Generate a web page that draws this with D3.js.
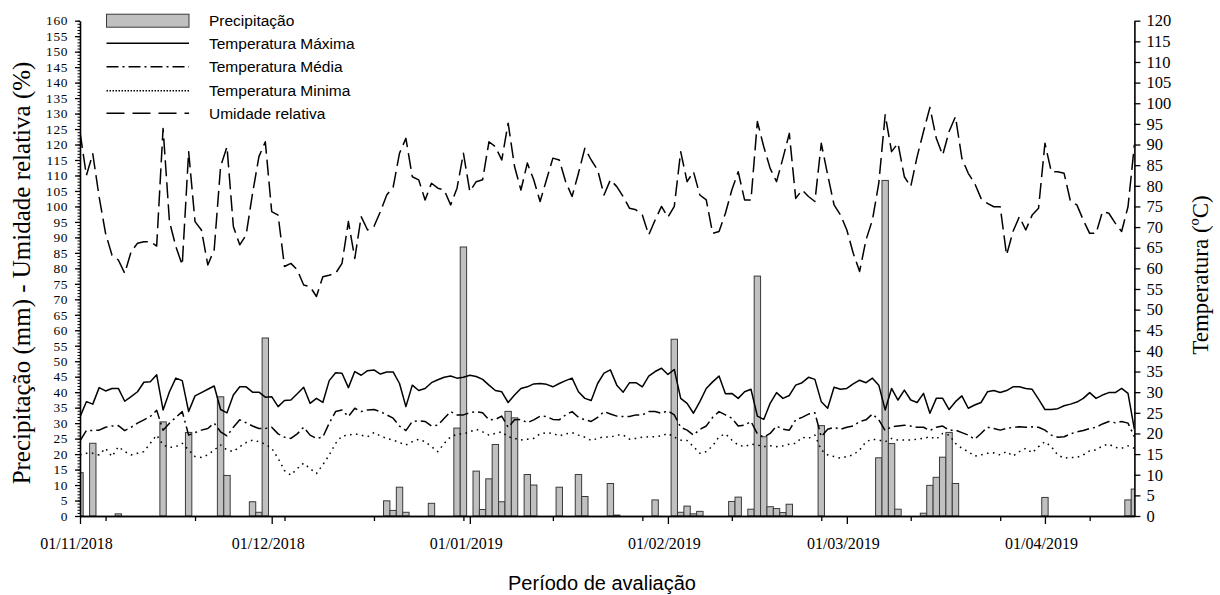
<!DOCTYPE html>
<html>
<head>
<meta charset="utf-8">
<script src="https://cdn.jsdelivr.net/npm/d3@7"></script>
<style>
  body { margin: 0; background: #fff; }
  svg { display: block; }
</style>
</head>
<body>
<svg id="chart" width="1220" height="595"></svg>
<script>
// Daily series, 01/11/2018 .. 15/04/2019 (one value per day)
const startDay = "2018-11-01";

const precipitacao = [
  14, 0, 23.5, 0, 0, 0, 0.7, 0, 0, 0, 0, 0, 0, 30.4, 0, 0, 0, 27, 0, 0,
  0, 0, 38.5, 13.1, 0, 0, 0, 4.6, 1.2, 57.5, 0, 0, 0, 0, 0, 0, 0, 0, 0, 0,
  0, 0, 0, 0, 0, 0, 0, 0, 4.9, 1.8, 9.3, 1.2, 0, 0, 0, 4.1, 0, 0, 0, 28.4,
  86.9, 0, 14.5, 2.1, 12, 23.1, 4.6, 33.8, 31.7, 0, 13.4, 10, 0, 0, 0, 9.3, 0, 0, 13.4, 6.3,
  0, 0, 0, 10.5, 0.3, 0, 0, 0, 0, 0, 5.2, 0, 0, 57.1, 1.2, 3.2, 0.7, 1.5, 0, 0,
  0, 0, 4.7, 6.1, 0, 2.2, 77.5, 25.6, 3, 2.4, 1.1, 3.8, 0, 0, 0, 0, 29.2, 0, 0, 0,
  0, 0, 0, 0, 0, 18.8, 108.4, 23.4, 2.2, 0, 0, 0, 0.9, 9.9, 12.5, 19, 27, 10.5, 0, 0,
  0, 0, 0, 0, 0, 0, 0, 0, 0, 0, 0, 6, 0, 0, 0, 0, 0, 0, 0, 0,
  0, 0, 0, 0, 5.2, 8.7
];

const temperaturaMaxima = [
  24, 27.7, 27.1, 31.1, 30.3, 30.9, 30.9, 27.8, 28.9, 30.1, 32.4, 32.5, 34.2, 25.7, 30.1, 33.4, 32.8, 25.3, 29.1, 29.9,
  30.7, 31.5, 25.8, 25.0, 29.3, 31.3, 31.3, 30.0, 30.0, 28.8, 28.9, 26.5, 28.0, 28.1, 29.6, 31.2, 27.3, 28.5, 27.5, 32.8,
  34.7, 34.6, 31.1, 35.0, 34.1, 35.2, 35.4, 34.4, 34.9, 34.9, 32.1, 26.5, 31.7, 30.4, 30.9, 32.3, 33.0, 33.6, 33.9, 33.4,
  33.6, 34.1, 33.8, 33.1, 31.7, 30.4, 30.1, 27.5, 29.3, 30.9, 31.3, 32.0, 32.1, 31.9, 31.3, 32.1, 32.8, 33.4, 30.1, 28.5,
  28.0, 32.1, 34.6, 35.4, 31.7, 30.0, 32.3, 32.3, 31.3, 33.9, 35.0, 35.8, 34.3, 35.5, 28.5, 27.3, 24.9, 27.7, 30.9, 32.5,
  33.9, 29.6, 29.7, 28.5, 30.1, 30.7, 24.2, 23.4, 27.3, 29.9, 28.5, 29.2, 31.7, 32.3, 33.6, 33.1, 27.7, 26.1, 31.2, 30.7,
  30.9, 32.0, 32.9, 32.3, 33.4, 31.7, 25.7, 30.9, 28.1, 30.5, 28.1, 27.5, 29.7, 24.9, 28.5, 28.5, 25.8, 27.7, 29.1, 26.1,
  26.9, 27.5, 30.1, 30.4, 29.9, 30.4, 31.3, 31.3, 30.9, 30.7, 28.3, 25.8, 25.8, 26.0, 26.7, 27.1, 27.6, 28.5, 29.9, 28.5,
  29.3, 29.9, 29.9, 30.9, 29.7, 21.0
];

const temperaturaMedia = [
  18.2, 20.7, 20.7, 20.8, 21.5, 21.8, 21.9, 20.7, 21.5, 22.5, 23.3, 24.1, 25.6, 20.8, 22.5, 23.9, 25.3, 19.6, 20.2, 20.8,
  21.2, 22.5, 20.4, 19.4, 21.5, 23.3, 22.6, 21.8, 21.2, 21.2, 21.5, 19.9, 19.1, 18.8, 19.9, 21.5, 19.6, 18.8, 19.1, 22.5,
  25.3, 25.7, 24.1, 26.1, 25.3, 25.7, 25.8, 25.3, 24.5, 23.7, 21.8, 20.7, 22.9, 23.1, 22.9, 21.8, 22.0, 23.7, 25.3, 24.5,
  24.5, 25.0, 25.3, 25.0, 23.3, 23.4, 24.2, 21.5, 23.3, 23.4, 22.6, 23.3, 24.2, 24.1, 23.4, 23.3, 24.5, 25.3, 23.9, 23.3,
  22.9, 23.9, 25.3, 24.7, 24.2, 24.1, 24.1, 24.5, 24.5, 25.3, 25.3, 24.9, 25.5, 24.5, 21.5, 20.8, 19.6, 21.0, 21.8, 23.9,
  25.3, 24.5, 23.7, 21.8, 22.0, 22.9, 19.9, 19.1, 20.0, 21.8, 21.0, 20.8, 23.3, 23.9, 24.7, 25.0, 19.2, 21.0, 21.5, 21.0,
  21.5, 21.8, 22.9, 23.3, 24.7, 23.3, 20.7, 21.6, 21.8, 22.0, 21.8, 21.5, 21.5, 20.7, 21.5, 21.8, 20.8, 20.8, 20.2, 19.6,
  18.6, 20.0, 21.5, 21.2, 20.8, 21.2, 21.5, 21.6, 21.5, 21.6, 21.5, 20.8, 19.6, 19.1, 19.2, 19.9, 20.4, 20.7, 21.2, 21.5,
  22.3, 22.9, 22.6, 22.9, 22.5, 19.2
];

const temperaturaMinima = [
  14.8, 15.2, 15.2, 14.8, 16.4, 14.4, 16.8, 15.6, 14.8, 15.2, 15.6, 17.6, 19.6, 17.2, 16.6, 16.8, 17.6, 16.0, 14.4, 14.2,
  14.8, 16.0, 17.2, 16.0, 15.6, 16.8, 17.8, 18.4, 18.0, 17.4, 16.4, 14.0, 11.0, 9.9, 11.5, 12.8, 11.5, 10.3, 12.4, 14.8,
  17.6, 19.4, 19.6, 19.9, 19.6, 19.2, 20.2, 19.4, 18.8, 18.4, 17.8, 17.2, 18.0, 18.6, 18.0, 16.8, 15.6, 17.6, 19.2, 19.8,
  19.9, 20.4, 21.0, 20.4, 19.6, 20.0, 20.4, 19.2, 18.8, 18.4, 18.6, 18.8, 19.9, 20.2, 20.0, 19.4, 19.9, 20.2, 19.6, 19.1,
  18.3, 18.8, 19.2, 19.1, 19.6, 19.6, 18.6, 18.8, 19.1, 19.2, 19.2, 19.4, 20.0, 19.1, 18.4, 18.3, 16.8, 15.2, 15.6, 17.0,
  19.2, 19.9, 18.4, 17.2, 16.8, 17.4, 17.2, 16.8, 17.0, 16.8, 17.0, 17.4, 17.6, 19.1, 18.8, 19.6, 16.0, 14.8, 14.4, 14.0,
  14.4, 14.8, 16.0, 18.0, 18.6, 18.4, 18.0, 18.8, 18.4, 18.4, 18.4, 18.6, 18.8, 19.2, 18.6, 20.0, 19.6, 17.6, 16.4, 15.6,
  14.5, 14.8, 15.2, 15.3, 14.8, 15.6, 14.5, 15.6, 16.4, 15.3, 16.8, 18.0, 16.8, 14.8, 14.0, 14.2, 14.2, 14.8, 15.8, 16.0,
  17.0, 17.4, 16.6, 16.4, 17.0, 16.4
];

const umidadeRelativa = [
  124, 110, 117, 103, 91.3, 84.3, 82.7, 78.4, 85.4, 88.1, 88.6, 88.6, 87.2, 125.2, 95.1, 87, 81.1, 117.7, 95.1, 92.4,
  81.1, 86, 112.9, 119.3, 93.5, 87.6, 90.8, 104.2, 116.1, 120.9, 98.3, 97.2, 80.6, 81.6, 79.5, 74.6, 74.1, 70.9, 77.3, 77.8,
  78.4, 81.6, 95.1, 83.2, 96.7, 92.4, 93.5, 98.3, 103.7, 106.2, 117.2, 122, 109.6, 108.6, 102.1, 107.5, 105.9, 105.3, 100.5, 105.9,
  117.2, 104.8, 108, 108.6, 120.9, 119.3, 115, 126.9, 112.9, 105.3, 114, 108.6, 101.6, 108.6, 115.6, 115, 108, 103.2, 110.7, 118.8,
  115, 111.8, 103.7, 108.6, 106.4, 103.2, 99.4, 98.9, 97.2, 90.8, 95.6, 100, 96.5, 100, 117.7, 108, 111.2, 103.7, 102.1, 91.3,
  91.9, 97.8, 105.3, 111.2, 102.1, 102.1, 127.4, 119.3, 112.3, 108, 115.6, 123.6, 102.6, 105.3, 103.2, 101.6, 120.4, 110.2, 100.5, 97.3,
  92.4, 84.9, 79, 89.2, 95.6, 107.5, 129.6, 117.7, 120.4, 109.6, 106.4, 116.1, 124.2, 132, 122, 116.6, 124.2, 129, 115.6, 110.7,
  107.5, 102.6, 101, 99.9, 99.9, 84.3, 91.9, 96.7, 92.4, 97.2, 99.4, 120.4, 111.2, 111.2, 110.7, 101.6, 100.5, 95.6, 91.3, 91.3,
  98.3, 97.8, 94.6, 91.9, 99.9, 119.9
];

// Labelled month ticks and the 14-day minor ticks (offsets in days from startDay)
const monthTickDays = ["2018-11-01", "2018-12-01", "2019-01-01", "2019-02-01", "2019-03-01", "2019-04-01"];
const monthTickLabels = ["01/11/2018", "01/12/2018", "01/01/2019", "01/02/2019", "01/03/2019", "01/04/2019"];
const minorTickOffsets = [4, 18, 32, 46, 60, 74, 88, 102, 116, 130, 144, 158];

const leftTicks = d3.range(0, 161, 5);
const rightTicks = d3.range(0, 121, 5);

const legendItems = ["Precipitação", "Temperatura Máxima", "Temperatura Média", "Temperatura Minima", "Umidade relativa"];

// ---------------------------------------------------------------------------
const parse = d3.utcParse("%Y-%m-%d");
const t0 = parse(startDay);
const dates = precipitacao.map((_, i) => d3.utcDay.offset(t0, i));
const lastDay = dates[dates.length - 1];

const plot = { left: 80, right: 1134.4, top: 20.7, bottom: 516 };

const x = d3.scaleUtc().domain([t0, lastDay]).range([plot.left, plot.right]);
const yLeft = d3.scaleLinear().domain([0, 160]).range([plot.bottom, plot.top]);
const yRight = d3.scaleLinear().domain([0, 120]).range([plot.bottom, plot.top]);

const serif = "'Liberation Serif', 'Times New Roman', serif";
const sans = "'Liberation Sans', Arial, sans-serif";

const svg = d3.select("#chart");

svg.append("defs").append("clipPath").attr("id", "plotClip")
  .append("rect")
  .attr("x", plot.left).attr("y", 0)
  .attr("width", plot.right - plot.left).attr("height", plot.bottom);

// Precipitation bars (one day wide, centred on the day)
const dayWidth = x(dates[1]) - x(dates[0]);
svg.append("g").attr("clip-path", "url(#plotClip)")
  .selectAll("rect")
  .data(dates.map((d, i) => ({ d, v: precipitacao[i] })).filter(p => p.v > 0))
  .join("rect")
  .attr("x", p => x(p.d) - dayWidth / 2)
  .attr("y", p => yLeft(p.v))
  .attr("width", dayWidth)
  .attr("height", p => yLeft(0) - yLeft(p.v))
  .attr("fill", "#c0c0c0")
  .attr("stroke", "#3a3a3a")
  .attr("stroke-width", 1);

// Lines
const seriesStyles = [
  { values: temperaturaMaxima, scale: yRight, dash: null },
  { values: temperaturaMedia, scale: yRight, dash: "12,4,2,4" },
  { values: temperaturaMinima, scale: yRight, dash: "1.6,4.4" },
  { values: umidadeRelativa, scale: yLeft, dash: "16,6" }
];
const linesG = svg.append("g").attr("clip-path", "url(#plotClip)");
seriesStyles.forEach(s => {
  const line = d3.line().x((v, i) => x(dates[i])).y(v => s.scale(v));
  linesG.append("path")
    .attr("d", line(s.values))
    .attr("fill", "none")
    .attr("stroke", "#000")
    .attr("stroke-width", 1.5)
    .attr("stroke-linejoin", "round")
    .attr("stroke-dasharray", s.dash);
});

// Axes
function styleAxis(g, size) {
  g.selectAll("text").attr("font-family", serif).attr("font-size", size).attr("fill", "#000");
  g.selectAll("line").attr("stroke", "#000").attr("stroke-width", 1.3);
  g.select(".domain").attr("stroke", "#000").attr("stroke-width", 1.6);
}

// left minor ticks
svg.append("g").attr("transform", `translate(${plot.left},0)`)
  .call(d3.axisLeft(yLeft).tickValues(d3.range(0, 161, 1)).tickSize(2.5).tickFormat(""))
  .call(g => g.select(".domain").remove())
  .call(g => g.selectAll("line").attr("stroke", "#000").attr("stroke-width", 1));

svg.append("g").attr("transform", `translate(${plot.left},0)`)
  .call(d3.axisLeft(yLeft).tickValues(leftTicks).tickSize(5).tickSizeOuter(0).tickPadding(7))
  .call(g => styleAxis(g, 13.4))
  .call(g => g.selectAll("text").attr("letter-spacing", 0.6));

svg.append("g").attr("transform", `translate(${plot.right},0)`)
  .call(d3.axisRight(yRight).tickValues(rightTicks).tickSize(6).tickSizeOuter(0).tickPadding(6))
  .call(g => styleAxis(g, 16.5));

// bottom: 14-day ticks
svg.append("g").attr("transform", `translate(0,${plot.bottom})`)
  .call(d3.axisBottom(x).tickValues(minorTickOffsets.map(o => d3.utcDay.offset(t0, o)))
    .tickSize(5).tickSizeOuter(0).tickFormat(""))
  .call(g => styleAxis(g, 16));

// bottom: month ticks with labels
const monthDates = monthTickDays.map(parse);
svg.append("g").attr("transform", `translate(0,${plot.bottom})`)
  .call(d3.axisBottom(x).tickValues(monthDates).tickSize(8).tickSizeOuter(0).tickPadding(14)
    .tickFormat((d, i) => monthTickLabels[i]))
  .call(g => styleAxis(g, 16))
  .call(g => g.selectAll("text").attr("dx", -4));

// Axis titles
svg.append("text")
  .attr("transform", "translate(21,273) rotate(-90)")
  .attr("text-anchor", "middle").attr("dy", "0.35em")
  .attr("font-family", serif).attr("font-size", 25)
  .text("Precipitação (mm) - Umidade relativa (%)");

svg.append("text")
  .attr("transform", "translate(1200,275) rotate(-90)")
  .attr("text-anchor", "middle").attr("dy", "0.35em")
  .attr("font-family", serif).attr("font-size", 23)
  .text("Temperatura (ºC)");

svg.append("text")
  .attr("x", 602).attr("y", 590)
  .attr("text-anchor", "middle")
  .attr("font-family", sans).attr("font-size", 20)
  .text("Período de avaliação");

// Legend
const legendY = [20.7, 43.3, 66.7, 90.7, 113.3];
const legendDash = [null, null, "12,4,2,4", "1.5,1.5", "18,8"];
const legend = svg.append("g");
legendItems.forEach((name, i) => {
  if (i === 0) {
    legend.append("rect")
      .attr("x", 106.5).attr("y", legendY[i] - 6.5)
      .attr("width", 82.5).attr("height", 13)
      .attr("fill", "#c0c0c0").attr("stroke", "#3a3a3a").attr("stroke-width", 1);
  } else {
    legend.append("line")
      .attr("x1", 106.5).attr("x2", 189)
      .attr("y1", legendY[i]).attr("y2", legendY[i])
      .attr("stroke", "#000").attr("stroke-width", 1.5)
      .attr("stroke-dasharray", legendDash[i]);
  }
  legend.append("text")
    .attr("x", 209).attr("y", legendY[i]).attr("dy", "0.36em")
    .attr("font-family", sans).attr("font-size", 15.5)
    .text(name);
});
</script>
</body>
</html>
